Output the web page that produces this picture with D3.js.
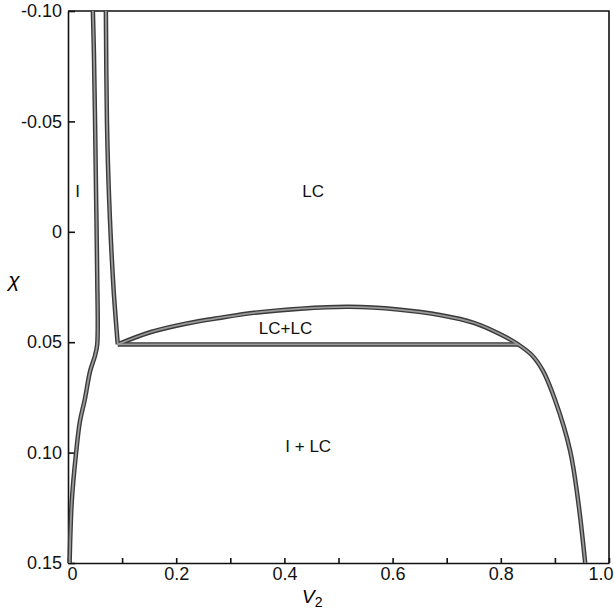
<html>
<head>
<script src="https://d3js.org/d3.v7.min.js"></script>
<style>
  body { margin: 0; background: #fff; }
  svg { font-family: "Liberation Sans", Arial, sans-serif; }
  .axis path, .axis line { stroke: #111; stroke-width: 1.6px; }
  .axis text { font-size: 18px; fill: #111; }
</style>
</head>
<body>
<svg id="chart" width="614" height="613"></svg>
<script>
// tick labels
var xTicks = [0, 0.2, 0.4, 0.6, 0.8, 1.0];
var xMinor = [0.1, 0.3, 0.5, 0.7, 0.9];
var yTicks = [-0.10, -0.05, 0, 0.05, 0.10, 0.15];
var yTickLabels = ["-0.10", "-0.05", "0", "0.05", "0.10", "0.15"];

// I / I+LC boundary
var isoV2  = [0.003, 0.007, 0.015, 0.022, 0.031, 0.041, 0.050, 0.054, 0.054, 0.052, 0.050, 0.048, 0.046];
var isoChi = [0.150, 0.122, 0.100, 0.086, 0.076, 0.063, 0.056, 0.051, 0.020, -0.015, -0.050, -0.080, -0.100];

// LC boundary, left branch above the triple line
var lcV2  = [0.070, 0.072, 0.076, 0.084, 0.092];
var lcChi = [-0.100, -0.050, -0.015, 0.025, 0.051];

// triple line
var tieV2  = [0.092, 0.832];
var tieChi = [0.051, 0.051];

// LC+LC dome and right branch
var domeV2  = [0.092, 0.152, 0.22, 0.28, 0.35, 0.43, 0.52, 0.61, 0.69, 0.75, 0.80, 0.832, 0.858, 0.878, 0.90, 0.928, 0.943, 0.956];
var domeChi = [0.051, 0.0455, 0.0415, 0.039, 0.0365, 0.0348, 0.034, 0.0352, 0.0378, 0.0412, 0.0465, 0.051, 0.056, 0.063, 0.076, 0.099, 0.122, 0.150];

// region labels
var regionText = ["I", "LC", "LC+LC", "I + LC"];
var regionV2   = [0.018, 0.453, 0.402, 0.444];
var regionChi  = [-0.0185, -0.0185, 0.0436, 0.0972];

var svg = d3.select("#chart");

var x = d3.scaleLinear().domain([0, 1]).range([68, 609]);
var y = d3.scaleLinear().domain([-0.10, 0.15]).range([11, 563]);

// frame (top and right)
svg.append("path")
  .attr("d", "M" + x(0) + "," + y(-0.10) + "H" + x(1) + "V" + y(0.15))
  .attr("fill", "none").attr("stroke", "#111").attr("stroke-width", 1.6);

// left axis, ticks pointing in
var yAxis = d3.axisLeft(y)
  .tickValues(yTicks)
  .tickSize(-7)
  .tickPadding(6)
  .tickSizeOuter(0)
  .tickFormat(function(d, i){ return yTickLabels[i]; });
svg.append("g").attr("class", "axis")
  .attr("transform", "translate(" + x(0) + ",0)")
  .call(yAxis);

// bottom axis
var xAxis = d3.axisBottom(x)
  .tickValues(xTicks)
  .tickSize(-5)
  .tickPadding(4)
  .tickSizeOuter(0)
  .tickFormat(function(d){ return d === 0 ? "0" : d3.format(".1f")(d); });
var gx = svg.append("g").attr("class", "axis")
  .attr("transform", "translate(0," + y(0.15) + ")")
  .call(xAxis);
gx.selectAll(".tick text")
  .filter(function(d){ return d === 0; })
  .attr("dx", 4);
gx.selectAll(".tick text")
  .filter(function(d){ return d === 1; })
  .attr("text-anchor", "end")
  .attr("dx", 4);

svg.append("g").attr("class", "axis")
  .attr("transform", "translate(0," + y(0.15) + ")")
  .call(d3.axisBottom(x).tickValues(xMinor).tickSize(-5).tickSizeOuter(0).tickFormat(""))
  .select(".domain").remove();

// curves: dark outline with lighter core, like the printed figure
var line = d3.line()
  .x(function(d){ return x(d[0]); })
  .y(function(d){ return y(d[1]); })
  .curve(d3.curveCatmullRom.alpha(0.5));

var curves = [
  d3.zip(isoV2, isoChi),
  d3.zip(lcV2, lcChi),
  d3.zip(tieV2, tieChi),
  d3.zip(domeV2, domeChi)
];

svg.append("g").selectAll("path.outer")
  .data(curves).enter().append("path")
  .attr("class", "outer")
  .attr("d", line)
  .attr("fill", "none")
  .attr("stroke", "#3a3a3a")
  .attr("stroke-width", 4.5)
  .attr("stroke-linejoin", "round");

svg.append("g").selectAll("path.inner")
  .data(curves).enter().append("path")
  .attr("class", "inner")
  .attr("d", line)
  .attr("fill", "none")
  .attr("stroke", "#9a9a9a")
  .attr("stroke-width", 1.8)
  .attr("stroke-linejoin", "round");

// region labels
svg.append("g").selectAll("text")
  .data(regionText).enter().append("text")
  .attr("x", function(d, i){ return x(regionV2[i]); })
  .attr("y", function(d, i){ return y(regionChi[i]); })
  .attr("text-anchor", "middle")
  .attr("dy", "0.35em")
  .style("font-size", "17px")
  .style("fill", "#111")
  .text(function(d){ return d; });

// axis titles
svg.append("text")
  .attr("x", 14).attr("y", 280)
  .attr("text-anchor", "middle").attr("dy", "0.35em")
  .style("font-size", "21px").style("font-style", "italic")
  .text("χ");

var vt = svg.append("text")
  .attr("x", 302).attr("y", 603)
  .style("font-size", "19px").style("font-style", "italic");
vt.append("tspan").text("V");
vt.append("tspan").attr("dy", 4).style("font-size", "14px").style("font-style", "normal").text("2");
</script>
</body>
</html>
